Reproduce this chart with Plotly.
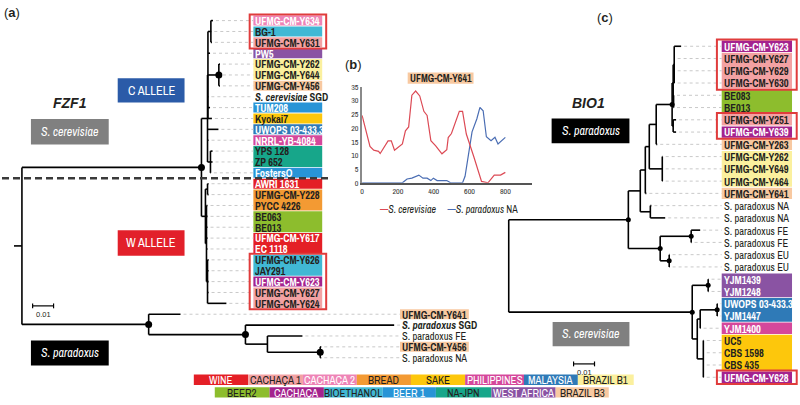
import plotly.graph_objects as go

# ======================= DATA =======================
CATEGORY_COLORS = {
    "WINE": "#e41f26", "CACHAÇA 1": "#f3a2a3", "CACHAÇA 2": "#ee84b6", "BREAD": "#f39a33",
    "SAKE": "#fdc70c", "PHILIPPINES": "#d5489b", "MALAYSIA": "#2f7ab7", "BRAZIL B1": "#fbf09e",
    "BEER2": "#8dbd2d", "CACHAÇA": "#a4238e", "BIOETHANOL": "#41b8d4", "BEER 1": "#2894d6",
    "NA-JPN": "#17a68a", "WEST AFRICA": "#8a53a3", "BRAZIL B3": "#f8c9a1",
}
LIGHT_TEXT_CATEGORIES = ["WINE", "CACHAÇA 2", "PHILIPPINES", "MALAYSIA", "CACHAÇA", "BEER 1", "WEST AFRICA"]
KEY_ROW1 = ["WINE", "CACHAÇA 1", "CACHAÇA 2", "BREAD", "SAKE", "PHILIPPINES", "MALAYSIA", "BRAZIL B1"]
KEY_ROW2 = ["BEER2", "CACHAÇA", "BIOETHANOL", "BEER 1", "NA-JPN", "WEST AFRICA", "BRAZIL B3"]

FZF1_LABELS = [
    "UFMG-CM-Y634", "BG-1", "UFMG-CM-Y631", "PW5", "UFMG-CM-Y262", "UFMG-CM-Y644", "UFMG-CM-Y456",
    "<i>S. cerevisiae</i> SGD", "TUM208", "Kyokai7", "UWOPS 03-433.3", "NRRL-YB-4084", "YPS 128",
    "ZP 652", "FostersO", "AWRI 1631", "UFMG-CM-Y228", "PYCC 4226", "BE063", "BE013", "UFMG-CM-Y617",
    "EC 1118", "UFMG-CM-Y626", "JAY291", "UFMG-CM-Y623", "UFMG-CM-Y627", "UFMG-CM-Y624",
    "UFMG-CM-Y641", "<i>S. paradoxus</i> SGD", "S. paradoxus FE", "UFMG-CM-Y456", "S. paradoxus NA",
]
FZF1_CATEGORIES = [
    "CACHAÇA 2", "BIOETHANOL", "CACHAÇA 1", "WEST AFRICA", "BRAZIL B1", "BRAZIL B1", "BRAZIL B3",
    None, "BEER 1", "SAKE", "MALAYSIA", "PHILIPPINES", "NA-JPN",
    "NA-JPN", "BEER 1", "WINE", "BREAD", "BREAD", "BEER2", "BEER2", "WINE",
    "WINE", "BIOETHANOL", "BIOETHANOL", "CACHAÇA", "CACHAÇA 1", "CACHAÇA 1",
    "BRAZIL B3", None, None, "BRAZIL B3", None,
]
FZF1_HIGHLIGHTS = [(0, 2), (22, 26)]


def T(bl, *kids, dot=False):
    return {"bl": bl, "kids": kids, "dot": dot}


def tip(bl):
    return {"bl": bl, "kids": (), "dot": False}


# branch lengths in substitutions/site (scale bar 0.01)
FZF1_TREE = T(0.0038,
    T(0.0857,
        T(0.0029,
            T(0.0002,
                T(0.0014, tip(0.0010), tip(0.0002), tip(0.0005)),
                tip(0.0010),
                T(0.0052, tip(0.0005), tip(0.0005), tip(0.0005), dot=True),
                tip(0.0002), tip(0.0010), tip(0.0019)),
            tip(0.0052), tip(0.0005),
            T(0.0014, tip(0.0010), tip(0.0010), tip(0.0002))),
        T(0.0019,
            T(0.0010, tip(0.0005), tip(0.0005)),
            T(0.0005, tip(0.0005), tip(0.0005), tip(0.0005), tip(0.0005), tip(0.0005),
                T(0.0005, tip(0.0005), tip(0.0005), tip(0.0005), tip(0.0005), tip(0.0090)))),
        dot=True),
    T(0.0605,
        tip(0.0152),
        T(0.0462,
            tip(0.0710),
            T(0.0105,
                tip(0.0167),
                T(0.0252, tip(0.0005), tip(0.0005), dot=True)),
            dot=True),
        dot=True),
)

BIO1_LABELS = [
    "UFMG-CM-Y623", "UFMG-CM-Y627", "UFMG-CM-Y629", "UFMG-CM-Y630", "BE083", "BE013",
    "UFMG-CM-Y251", "UFMG-CM-Y639", "UFMG-CM-Y263", "UFMG-CM-Y262", "UFMG-CM-Y649", "UFMG-CM-Y464",
    "UFMG-CM-Y641", "S. paradoxus NA", "S. paradoxus NA", "S. paradoxus FE", "S. paradoxus FE",
    "S. paradoxus EU", "S. paradoxus EU", "YJM1439", "YJM1248", "UWOPS 03-433.3", "YJM1447",
    "YJM1400", "UC5", "CBS 1598", "CBS 435", "UFMG-CM-Y628",
]
BIO1_CATEGORIES = [
    "CACHAÇA", "CACHAÇA 1", "CACHAÇA 1", "CACHAÇA 1", "BEER2", "BEER2",
    "CACHAÇA 1", "CACHAÇA", "BRAZIL B3", "BRAZIL B1", "BRAZIL B1", "BRAZIL B1",
    "BRAZIL B3", None, None, None, None,
    None, None, "WEST AFRICA", "WEST AFRICA", "MALAYSIA", "MALAYSIA",
    "PHILIPPINES", "SAKE", "SAKE", "SAKE", "CACHAÇA",
]
BIO1_HIGHLIGHTS = [(0, 3), (6, 7), (27, 27)]

BIO1_TREE = T(0.0,
    T(0.0571,
        T(0.0057,
            T(0.0024,
                T(0.0019,
                    T(0.0033,
                        T(0.0076,
                            T(0.0005,
                                T(0.0005, tip(0.0033), tip(0.0002), tip(0.0002), tip(0.0002)),
                                T(0.0002, tip(0.0002), tip(0.0002))),
                            T(0.0005, tip(0.0014), tip(0.0014)),
                            dot=True),
                        tip(0.0005)),
                    T(0.0062, tip(0.0002), tip(0.0002), tip(0.0002))),
                tip(0.0005)),
            T(0.0048, tip(0.0005), tip(0.0071))),
        T(0.0152,
            T(0.0148, tip(0.0043), tip(0.0002), dot=True),
            T(0.0043, tip(0.0002), tip(0.0002), dot=True),
            dot=True),
        dot=True),
    T(0.0876,
        T(0.0076, tip(0.0002), tip(0.0002), dot=True),
        T(0.0024,
            T(0.0014,
                T(0.0081, tip(0.0002), tip(0.0002), dot=True),
                tip(0.0002)),
            T(0.0029, tip(0.0002), tip(0.0002), tip(0.0002), tip(0.0002))),
        dot=True),
)

# Inset (b): UFMG-CM-Y641 similarity along the alignment
CER_POS = [0, 44, 65, 92, 101, 145, 163, 181, 225, 242, 260, 278, 299, 322, 345, 363, 384, 411,
           446, 473, 481, 499, 543, 561, 582, 605, 623, 667, 703, 738, 773, 800]
CER_VAL = [24.6, 13.3, 11.9, 11.5, 10.7, 15.3, 15.3, 11.9, 14.2, 19, 20.4, 32, 33.5, 31.7, 26.1, 24.6,
           15.4, 13.5, 10.6, 12.1, 16.5, 18, 26.1, 26.1, 17.8, 13.5, 9.7, 0.5, 0, 2.8, 2.8, 3.8]
PAR_POS = [0, 225, 234, 251, 278, 299, 317, 340, 363, 384, 398, 419, 473, 494, 561, 575, 596, 614,
           641, 658, 676, 694, 720, 742, 759, 800]
PAR_VAL = [0, 0, 0.5, 1.4, 1.7, 2.4, 2.8, 1.7, 1.7, 0.8, 1.7, 0.8, 0.8, 0, 0, 2.4, 10.9, 18.6,
           23.4, 27.5, 26.3, 16.8, 15.4, 16.6, 14.2, 16.6]
X_TICKS = [0, 200, 400, 600, 800]

# ======================= LAYOUT / DRAWING =======================
NARROW = "Archivo Narrow, Roboto Condensed, Liberation Sans, sans-serif"
SANS = "Liberation Sans, Arial, sans-serif"
DARK = "#231f20"
PX_PER_UNIT = 21 / 0.01
LABEL_SIZE = 10.5

fig = go.Figure()


def layout_tree(tree, x_start, row_ys):
    xs, ys, dots, tips = [], [], [], []
    counter = [0]

    def rec(node, xp):
        x = xp + node["bl"] * PX_PER_UNIT
        if not node["kids"]:
            y = row_ys[counter[0]]
            counter[0] += 1
            tips.append(x)
            xs.extend([xp, x, None]); ys.extend([y, y, None])
            return y
        cy = [rec(k, x) for k in node["kids"]]
        y = (cy[0] + cy[-1]) / 2
        xs.extend([x, x, None, xp, x, None]); ys.extend([cy[0], cy[-1], None, y, y, None])
        if node["dot"]:
            dots.append((x, y))
        return y

    rec(tree, x_start)
    return xs, ys, dots, tips


def label_panel(labels, cats, row_ys, spacing, box_w, label_x_for_row, tips,
                highlights, hl_x0, hl_x1):
    # leader lines
    lx, ly = [], []
    for i, t in enumerate(tips):
        lx.extend([t + 3, label_x_for_row(i) - 2, None]); ly.extend([row_ys[i], row_ys[i], None])
    fig.add_trace(go.Scatter(x=lx, y=ly, mode="lines", line=dict(color="#c9c9c9", width=1, dash="3px,3px"),
                             hoverinfo="skip"))
    # coloured boxes (runs of equal category merged)
    bx, by, bw, bh, bc = [], [], [], [], []
    i = 0
    n = len(labels)
    while i < n:
        j = i
        while j + 1 < n and cats[j + 1] == cats[i] and cats[i] is not None and \
                label_x_for_row(j + 1) == label_x_for_row(i):
            j += 1
        if cats[i] is not None:
            by.append((row_ys[i] + row_ys[j]) / 2)
            bh.append((j - i + 1) * spacing - 0.9)
            bx.append(label_x_for_row(i) - 2)
            bw.append(box_w)
            bc.append(CATEGORY_COLORS[cats[i]])
        i = j + 1
    fig.add_trace(go.Bar(orientation="h", y=by, x=bw, base=bx, width=bh, marker=dict(color=bc, line=dict(width=0)),
                         hoverinfo="skip"))
    # labels
    for i, (lab, c) in enumerate(zip(labels, cats)):
        if c is None:
            t = lab if "<i>" not in lab else "<b>" + lab + "</b>"
            col = DARK
        else:
            t = "<b>" + lab + "</b>"
            col = "white" if c in LIGHT_TEXT_CATEGORIES else DARK
        fig.add_annotation(x=label_x_for_row(i) - 1, y=row_ys[i] + 0.4, xref="x", yref="y", text=t,
                           showarrow=False, xanchor="left", yanchor="middle", borderpad=0,
                           font=dict(family=NARROW, size=LABEL_SIZE, color=col))
    for a, b in highlights:
        fig.add_shape(type="rect", xref="x", yref="y", x0=hl_x0, x1=hl_x1,
                      y0=row_ys[a] - spacing / 2 - 0.6, y1=row_ys[b] + spacing / 2 + 0.6,
                      line=dict(color="#e03c3c", width=2))


# ---------- panel (a) FZF1 ----------
A_TOP, A_SP = 16.0, 11.15
a_rows = [A_TOP + i * A_SP for i in range(len(FZF1_LABELS))]
ax_, ay_, adots, atips = layout_tree(FZF1_TREE, 12, a_rows)
fig.add_trace(go.Scatter(x=ax_, y=ay_, mode="lines", line=dict(color="black", width=1.6), hoverinfo="skip"))
fig.add_trace(go.Scatter(x=[d[0] for d in adots], y=[d[1] for d in adots], mode="markers",
                         marker=dict(color="black", size=7), hoverinfo="skip"))
label_panel(FZF1_LABELS, FZF1_CATEGORIES, a_rows, A_SP, 69,
            lambda i: 254 if i < 27 else 401, atips, FZF1_HIGHLIGHTS, 248.3, 325)

# heavy dashed separator between the C and W alleles
sep_y = (a_rows[14] + a_rows[15]) / 2
fig.add_shape(type="line", xref="x", yref="y", x0=0, x1=327, y0=sep_y, y1=sep_y,
              line=dict(color="#3a3a3a", width=2.5, dash="7px,4px"))

# ---------- panel (c) BIO1 ----------
C_TOP, C_SP = 42.3, 12.57
c_rows = [C_TOP + i * C_SP for i in range(len(BIO1_LABELS))]
cx_, cy_, cdots, ctips = layout_tree(BIO1_TREE, 508, c_rows)
fig.add_trace(go.Scatter(x=cx_, y=cy_, mode="lines", line=dict(color="black", width=1.6), hoverinfo="skip"))
fig.add_trace(go.Scatter(x=[d[0] for d in cdots], y=[d[1] for d in cdots], mode="markers",
                         marker=dict(color="black", size=5), hoverinfo="skip"))
label_panel(BIO1_LABELS, BIO1_CATEGORIES, c_rows, C_SP, 70.5,
            lambda i: 723.5, ctips, BIO1_HIGHLIGHTS, 716.7, 796.7)

# ---------- colour key ----------
KEY_ROW1_EDGES = [192.3, 246.7, 301.7, 355.7, 410, 464.3, 523.3, 577.3, 633.3]
KEY_ROW2_EDGES = [213.3, 268.3, 322.7, 381.7, 435, 490.7, 555, 608.3]
for cats_row, edges, yc in ((KEY_ROW1, KEY_ROW1_EDGES, 384.2), (KEY_ROW2, KEY_ROW2_EDGES, 397.2)):
    fig.add_trace(go.Bar(orientation="h", y=[yc] * len(cats_row),
                         x=[edges[k + 1] - edges[k] for k in range(len(cats_row))],
                         base=edges[:-1], width=10.6,
                         marker=dict(color=[CATEGORY_COLORS[c] for c in cats_row], line=dict(width=0)),
                         hoverinfo="skip"))
    for k, c in enumerate(cats_row):
        fig.add_annotation(x=(edges[k] + edges[k + 1]) / 2, y=yc + 0.5, xref="x", yref="y", text=c,
                           showarrow=False, borderpad=0,
                           font=dict(family=NARROW, size=11,
                                     color="white" if c in LIGHT_TEXT_CATEGORIES else DARK))

# ---------- inset (b) ----------
fig.add_trace(go.Scatter(x=PAR_POS, y=PAR_VAL, mode="lines", line=dict(color="#4a6db3", width=1.2),
                         xaxis="x2", yaxis="y2", hoverinfo="skip"))
fig.add_trace(go.Scatter(x=CER_POS, y=CER_VAL, mode="lines", line=dict(color="#dc4a55", width=1.2),
                         xaxis="x2", yaxis="y2", hoverinfo="skip"))


# ---------- decorations ----------
def box(x0, y0, x1, y1, color, text, size=11, fcolor="white", family=SANS):
    fig.add_shape(type="rect", xref="x", yref="y", x0=x0, x1=x1, y0=y0, y1=y1,
                  fillcolor=color, line=dict(width=0), layer="above")
    fig.add_annotation(x=(x0 + x1) / 2, y=(y0 + y1) / 2, xref="x", yref="y", text=text, showarrow=False,
                       font=dict(size=size, color=fcolor, family=family))


box(116, 75, 183, 100, "#2b5ba8", "C ALLELE", 12.5, family=NARROW)
box(116, 231, 183, 257, "#e2202a", "W ALLELE", 12.5, family=NARROW)
box(29, 117, 107, 143, "#808080", "<i>S. cerevisiae</i>", 12, family=NARROW)
box(29, 344, 107, 369.5, "#000000", "<i>S. paradoxus</i>", 12, family=NARROW)
box(551, 116.5, 629, 141.7, "#000000", "<i>S. paradoxus</i>", 12, family=NARROW)
box(552, 325, 629, 350, "#808080", "<i>S. cerevisiae</i>", 12, family=NARROW)
box(406.7, 69.3, 472.7, 80.7, "#f8c9a1", "<b>UFMG-CM-Y641</b>", 10, DARK, NARROW)


def text(x, y, t, size, family=SANS, xanchor="center", color=DARK):
    fig.add_annotation(x=x, y=y, xref="x", yref="y", text=t, showarrow=False, xanchor=xanchor,
                       font=dict(size=size, family=family, color=color))


text(10, 8, "(<b>a</b>)", 13)
text(352, 61, "(<b>b</b>)", 13)
text(605, 13, "(<b>c</b>)", 13)
text(68.5, 100, "<b><i>FZF1</i></b>", 14)
text(588, 100, "<b><i>BIO1</i></b>", 14)
text(377, 210, "<span style='color:#dc4a55'>—</span><i>S. cerevisiae</i>     "
               "<span style='color:#4a6db3'>—</span><i>S. paradoxus</i> NA", 10, NARROW, "left")

# scale bars (0.01)
for (sx, sy) in ((30.7, 308.5), (573, 368)):
    L = 0.01 * PX_PER_UNIT
    fig.add_shape(type="line", xref="x", yref="y", x0=sx, x1=sx + L, y0=sy, y1=sy, line=dict(color="black", width=1.2))
    for ex in (sx, sx + L):
        fig.add_shape(type="line", xref="x", yref="y", x0=ex, x1=ex, y0=sy - 2.5, y1=sy + 2.5,
                      line=dict(color="black", width=1.2))
    text(sx + L / 2, sy + 9, "0.01", 7.5)

fig.update_layout(
    width=800, height=405, margin=dict(l=0, r=0, t=0, b=0),
    paper_bgcolor="white", plot_bgcolor="rgba(0,0,0,0)", showlegend=False, barmode="overlay",
    xaxis=dict(range=[0, 800], visible=False, domain=[0, 1], fixedrange=True),
    yaxis=dict(range=[405, 0], visible=False, domain=[0, 1], fixedrange=True),
    xaxis2=dict(domain=[361 / 800, 531 / 800], range=[0, 947], anchor="y2", tickvals=X_TICKS,
                showgrid=False, zeroline=False, showline=True, linecolor="#555", linewidth=1.5,
                ticks="", tickfont=dict(size=8, color="#333", family=NARROW)),
    yaxis2=dict(domain=[(405 - 182.3) / 405, (405 - 84) / 405], range=[0, 35], anchor="x2", dtick=5,
                showgrid=False, zeroline=False, showline=True, linecolor="#8a8a8a", linewidth=2,
                ticks="", tickfont=dict(size=8, color="#333", family=NARROW)),
)

fig.write_html("out.html", config={"displayModeBar": False},
               post_script="document.body.style.margin='0px';document.body.style.overflow='hidden';")
